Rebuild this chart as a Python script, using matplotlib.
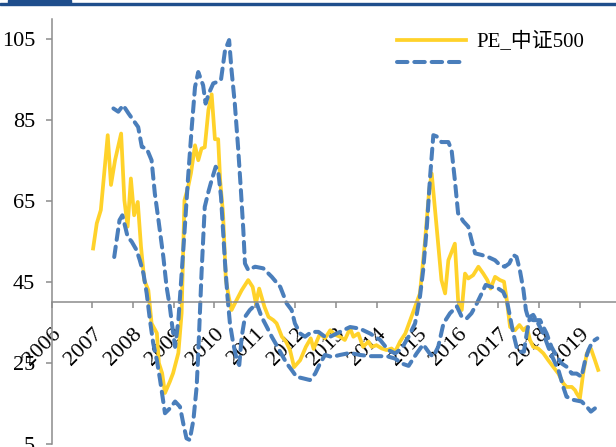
import numpy as np
import matplotlib
matplotlib.use("Agg")
import matplotlib.pyplot as plt
from matplotlib.patches import Rectangle

plt.rcParams['font.family'] = ['Liberation Serif', 'Noto Sans CJK SC']

# PE_中证500 (yellow line)
pe_t = [2007.02, 2007.11, 2007.21, 2007.38, 2007.46, 2007.56, 2007.71, 2007.79, 2007.87, 2007.95,
        2008.03, 2008.12, 2008.20, 2008.28, 2008.38, 2008.46, 2008.59, 2008.64, 2008.72, 2008.79,
        2008.91, 2008.99, 2009.12, 2009.20, 2009.27, 2009.36, 2009.43, 2009.53, 2009.61, 2009.69,
        2009.77, 2009.86, 2009.94, 2010.02, 2010.10, 2010.15, 2010.22, 2010.29, 2010.36, 2010.43,
        2010.53, 2010.68, 2010.84, 2010.95, 2011.03, 2011.11, 2011.24, 2011.34, 2011.46, 2011.54,
        2011.67, 2011.77, 2011.87, 2011.97, 2012.12, 2012.26, 2012.38, 2012.45, 2012.61, 2012.73,
        2012.86, 2012.98, 2013.10, 2013.22, 2013.35, 2013.43, 2013.55, 2013.67, 2013.80, 2013.88,
        2014.00, 2014.13, 2014.25, 2014.37, 2014.46, 2014.58, 2014.71, 2014.83, 2014.95, 2015.07,
        2015.19, 2015.30, 2015.36, 2015.48, 2015.60, 2015.69, 2015.77, 2015.93, 2016.01, 2016.10,
        2016.18, 2016.26, 2016.38, 2016.51, 2016.63, 2016.73, 2016.81, 2016.92, 2017.04, 2017.14,
        2017.21, 2017.29, 2017.41, 2017.52, 2017.62, 2017.70, 2017.78, 2017.86, 2017.98, 2018.11,
        2018.23, 2018.35, 2018.48, 2018.60, 2018.68, 2018.81, 2018.89, 2018.93, 2019.01, 2019.09,
        2019.18, 2019.28, 2019.38, 2019.46]
pe_v = [53.3, 59.5, 62.8, 81.3, 69.0, 75.1, 81.7, 65.2, 58.7, 70.6,
        61.5, 64.8, 53.7, 45.5, 43.0, 34.8, 32.4, 25.0, 22.5, 17.6,
        20.4, 22.5, 27.5, 37.3, 65.2, 68.5, 71.9, 78.8, 75.1, 78.0,
        78.3, 87.5, 91.4, 80.3, 80.3, 70.0, 62.0, 45.5, 41.4, 38.1,
        40.1, 43.0, 45.5, 43.8, 39.7, 43.4, 38.9, 36.4, 35.6, 34.8,
        31.5, 30.3, 28.2, 24.0, 25.7, 29.0, 31.1, 28.5, 32.3, 31.1,
        33.1, 32.0, 31.5, 30.7, 33.6, 31.5, 32.3, 29.0, 30.3, 29.0,
        29.4, 28.6, 28.2, 28.6, 27.8, 30.3, 32.3, 35.6, 38.9, 42.2,
        54.5, 68.0, 71.8, 58.7, 45.5, 42.2, 50.4, 54.5, 40.5, 38.1,
        47.1, 45.9, 46.7, 48.8, 47.1, 45.5, 43.4, 46.3, 45.5, 45.1,
        40.5, 33.9, 33.1, 34.4, 33.1, 33.9, 30.7, 29.0, 28.6, 27.4,
        25.7, 24.1, 22.4, 20.0, 19.1, 19.1, 18.3, 17.5, 16.3, 22.4,
        27.4, 28.6, 25.7, 23.3]

# upper dashed band
up_t = [2007.52, 2007.64, 2007.76, 2007.89, 2008.01, 2008.13, 2008.22, 2008.34, 2008.46, 2008.54,
        2008.63, 2008.75, 2008.83, 2008.91, 2008.97, 2009.04, 2009.12, 2009.20, 2009.28, 2009.36,
        2009.45, 2009.53, 2009.61, 2009.73, 2009.79, 2009.87, 2009.98, 2010.09, 2010.17, 2010.27,
        2010.37, 2010.43, 2010.51, 2010.59, 2010.66, 2010.72, 2010.76, 2010.84, 2011.01, 2011.21,
        2011.42, 2011.63, 2011.79, 2011.91, 2011.99, 2012.12, 2012.24, 2012.40, 2012.57, 2012.73,
        2012.86, 2013.18, 2013.35, 2013.59, 2013.84, 2014.09, 2014.29, 2014.46, 2014.62, 2014.79,
        2014.95, 2015.07, 2015.15, 2015.24, 2015.32, 2015.40, 2015.48, 2015.60, 2015.77, 2015.85,
        2015.93, 2016.01, 2016.14, 2016.26, 2016.34, 2016.43, 2016.59, 2016.75, 2016.92, 2017.04,
        2017.16, 2017.27, 2017.37, 2017.45, 2017.53, 2017.62, 2017.68, 2017.74, 2017.86, 2018.03,
        2018.11, 2018.19, 2018.31, 2018.44, 2018.56, 2018.68, 2018.81, 2018.93, 2019.05, 2019.14,
        2019.22, 2019.32, 2019.44]
up_v = [87.9, 87.1, 88.7, 86.7, 85.0, 83.3, 78.4, 78.0, 75.1, 66.9,
        60.3, 51.2, 43.8, 38.9, 34.0, 29.0, 35.6, 47.1, 58.7, 71.0,
        83.3, 93.2, 96.9, 93.6, 89.1, 91.6, 94.1, 94.5, 95.0, 102.3,
        104.8, 97.3, 89.1, 78.4, 67.7, 57.8, 49.6, 48.0, 48.8, 48.4,
        46.3, 43.8, 39.7, 38.1, 34.8, 32.3, 31.5, 32.7, 32.7, 31.5,
        31.5, 33.1, 33.9, 33.5, 32.3, 30.7, 28.2, 27.4, 28.6, 31.5,
        34.8, 41.4, 48.0, 58.7, 71.0, 81.3, 81.0, 79.6, 79.6, 77.6,
        70.2, 62.0, 60.0, 58.7, 55.4, 52.1, 51.7, 51.2, 50.4, 49.2,
        48.8, 49.6, 51.7, 51.2, 48.0, 43.0, 38.1, 36.0, 35.6, 35.6,
        33.9, 32.3, 29.0, 26.6, 24.9, 24.1, 22.4, 22.4, 21.6, 25.7,
        28.2, 30.3, 31.1]

# lower dashed band
lo_t = [2007.54, 2007.60, 2007.67, 2007.74, 2007.81, 2007.87, 2007.97, 2008.09, 2008.17, 2008.26,
        2008.34, 2008.42, 2008.50, 2008.59, 2008.67, 2008.73, 2008.79, 2008.91, 2009.04, 2009.16,
        2009.24, 2009.32, 2009.40, 2009.49, 2009.57, 2009.61, 2009.65, 2009.69, 2009.73, 2009.77,
        2009.86, 2009.94, 2010.04, 2010.10, 2010.17, 2010.22, 2010.27, 2010.33, 2010.39, 2010.47,
        2010.56, 2010.62, 2010.68, 2010.76, 2010.88, 2011.05, 2011.17, 2011.30, 2011.42, 2011.54,
        2011.67, 2011.79, 2011.91, 2012.03, 2012.20, 2012.36, 2012.49, 2012.61, 2012.73, 2012.90,
        2013.10, 2013.35, 2013.59, 2013.84, 2014.09, 2014.29, 2014.46, 2014.62, 2014.79, 2014.99,
        2015.15, 2015.32, 2015.40, 2015.52, 2015.65, 2015.81, 2015.98, 2016.10, 2016.22, 2016.34,
        2016.47, 2016.59, 2016.69, 2016.83, 2017.00, 2017.12, 2017.21, 2017.29, 2017.37, 2017.45,
        2017.53, 2017.63, 2017.70, 2017.78, 2017.86, 2017.98, 2018.11, 2018.23, 2018.35, 2018.48,
        2018.60, 2018.68, 2018.85, 2019.05, 2019.18, 2019.28, 2019.38]
lo_v = [51.2, 55.4, 60.3, 61.5, 58.7, 56.2, 55.0, 52.9, 50.4, 47.1,
        42.2, 35.6, 29.9, 25.7, 20.8, 16.7, 12.6, 13.8, 15.5, 14.2,
        10.1, 6.4, 6.0, 10.9, 19.1, 27.4, 37.3, 47.1, 55.4, 63.6,
        67.3, 70.2, 73.5, 72.5, 66.1, 57.8, 49.6, 41.4, 34.8, 29.9,
        25.7, 24.5, 31.5, 36.4, 38.1, 39.7, 36.4, 33.9, 31.5, 29.4,
        27.0, 24.9, 23.3, 21.6, 21.2, 20.8, 22.4, 24.9, 27.0, 26.5,
        27.0, 27.5, 27.0, 26.7, 26.7, 26.6, 26.1, 24.9, 24.3, 27.4,
        29.6, 27.2, 26.6, 29.0, 34.8, 37.3, 39.0, 36.4, 36.0, 37.3,
        39.7, 42.2, 44.3, 43.8, 43.4, 42.6, 40.5, 36.4, 32.3, 29.0,
        27.8, 27.8, 32.3, 36.4, 36.9, 34.8, 32.3, 29.0, 26.1, 23.3,
        19.1, 16.7, 15.9, 15.5, 14.2, 13.0, 13.8]

years = list(range(2006, 2020))
yticks = [5, 25, 45, 65, 85, 105]

yellow = "#FFD22A"
blue = "#4A7EBB"
grey = "#8C8C8C"

W, H = 616, 447
fig = plt.figure(figsize=(W / 100, H / 100), dpi=100)
ax = fig.add_axes([51.7 / W, 3 / H, (W - 51.7) / W, 425 / H])

l1, = ax.plot(pe_t, pe_v, color=yellow, lw=2.7, solid_joinstyle="round")
l2, = ax.plot(up_t, up_v, color=blue, lw=2.9, dashes=(2.6, 1.7), dash_capstyle="round")
ax.plot(lo_t, lo_v, color=blue, lw=2.9, dashes=(2.6, 1.7), dash_capstyle="round")

ax.set_xlim(2006, 2006 + (W - 51.7) / 40.6)
ax.set_ylim(5, 110)
ax.set_xticks(years)
ax.set_xticklabels([str(y) for y in years])
ax.set_yticks(yticks)

ax.spines[["top", "right"]].set_visible(False)
ax.spines["bottom"].set_position(("data", 40))
for s in ["bottom", "left"]:
    ax.spines[s].set_color(grey)
    ax.spines[s].set_linewidth(1.1)
ax.tick_params(axis="both", colors=grey, labelcolor="black", labelsize=16, width=1.1, length=4)
ax.tick_params(axis="x", pad=12, labelrotation=45)
ax.tick_params(axis="y", pad=8)
plt.setp(ax.get_xticklabels(), ha="right", va="top", rotation_mode="anchor")

ax.legend([l1, l2], ["PE_中证500", ""], loc="upper left", bbox_to_anchor=(397 / W, 1 - 32 / H),
          bbox_transform=fig.transFigure, frameon=False, fontsize=15, handlelength=3.3,
          handletextpad=0.5, labelspacing=0.15, borderaxespad=0, borderpad=0)

# report header strip
fig.patches.append(Rectangle((0, 1 - 4.5 / H), 1, 1.5 / H, transform=fig.transFigure,
                             color="#1F4E8C", zorder=5))
fig.patches.append(Rectangle((8 / W, 1 - 3.5 / H), 63 / W, 3.5 / H, transform=fig.transFigure,
                             color="#1F4E8C", zorder=5))

fig.savefig("out.png", dpi=100)
